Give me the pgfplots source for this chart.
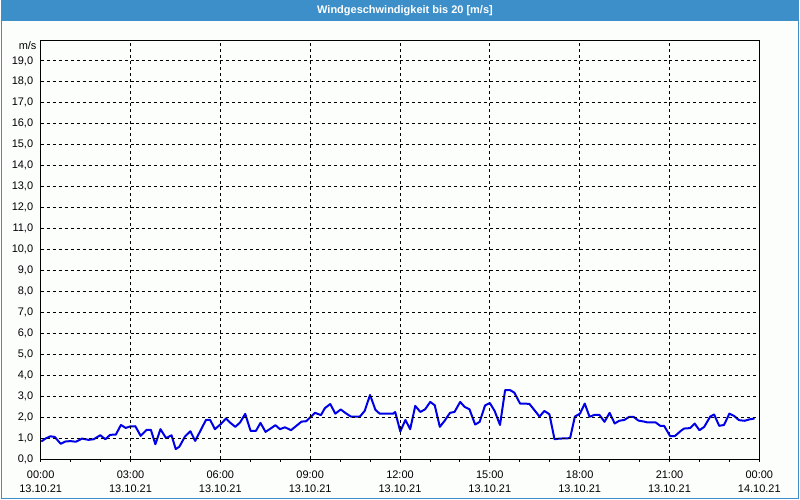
\documentclass[border=0pt]{standalone}
\usepackage{pgfplots}
\pgfplotsset{compat=1.18}
\usepackage{fontspec}
\setmainfont{Liberation Sans}
\definecolor{barblue}{RGB}{60,143,201}
\definecolor{bgc}{RGB}{252,254,252}
\definecolor{lineblue}{RGB}{0,0,230}
\begin{document}
\begin{tikzpicture}[x=1pt,y=1pt]
\fill[bgc] (0,0) rectangle (800,500);
\fill[barblue] (0,479) rectangle (800,500);
\draw[barblue,line width=1.5pt] (0.75,0) -- (0.75,479);
\draw[barblue,line width=1.5pt] (799.25,0) -- (799.25,479);
\draw[barblue,line width=1.5pt] (0,0.75) -- (800,0.75);
\node[text=white,font=\fontsize{11}{13}\selectfont\bfseries] at (405,489.5) {Windgeschwindigkeit bis 20 [m/s]};
\node[anchor=east,inner sep=0pt,font=\fontsize{11}{13}\selectfont] at (36,454) {m/s};
\begin{axis}[
  at={(40pt,40pt)}, anchor=south west,
  width=720pt, height=420pt, scale only axis,
  xmin=0, xmax=24, ymin=0, ymax=20,
  axis line style={black, line width=0.8pt},
  xtick={0,3,...,24},
  minor xtick={1,2,4,5,7,8,10,11,13,14,16,17,19,20,22,23},
  xticklabels={00:00\\13.10.21,03:00\\13.10.21,06:00\\13.10.21,09:00\\13.10.21,12:00\\13.10.21,15:00\\13.10.21,18:00\\13.10.21,21:00\\13.10.21,00:00\\14.10.21},
  xticklabel style={align=center, font=\fontsize{11}{14.5}\selectfont, yshift=-5pt},
  ytick={0,1,...,19},
  yticklabel style={font=\fontsize{11}{13}\selectfont, xshift=-1pt},
  /pgf/number format/.cd, use comma, fixed, fixed zerofill, precision=1, assume math mode=true,
  /pgfplots/.cd,
  tick align=outside,
  major tick length=3pt, minor tick length=3pt,
  xtick pos=bottom,
  ytick style={draw=none},
  tick style={black, line width=0.8pt},
  xmajorgrids, ymajorgrids,
  major grid style={black, line width=0.8pt, dash pattern=on 3pt off 3pt},
  axis on top,
]
\addplot[lineblue, line width=2pt, line join=round] coordinates {
(0.02,0.84)(0.16,0.98)(0.32,1.09)(0.47,1.06)(0.67,0.73)(0.82,0.84)(0.99,0.86)(1.18,0.83)
(1.38,0.98)(1.60,0.92)(1.77,0.95)(1.99,1.14)(2.16,0.95)(2.32,1.16)(2.51,1.17)(2.68,1.63)
(2.84,1.49)(2.99,1.56)(3.16,1.57)(3.34,1.11)(3.54,1.40)(3.68,1.40)(3.83,0.71)(4.00,1.43)
(4.19,1.00)(4.37,1.14)(4.51,0.48)(4.63,0.59)(4.82,1.08)(5.00,1.33)(5.16,0.87)(5.52,1.87)
(5.66,1.87)(5.82,1.43)(6.02,1.68)(6.19,1.94)(6.32,1.75)(6.50,1.54)(6.66,1.75)(6.83,2.16)
(7.01,1.35)(7.19,1.35)(7.34,1.73)(7.51,1.30)(7.68,1.46)(7.84,1.62)(7.99,1.43)(8.16,1.52)
(8.36,1.38)(8.54,1.59)(8.71,1.79)(8.87,1.81)(9.16,2.21)(9.36,2.10)(9.49,2.43)(9.67,2.63)
(9.84,2.17)(10.02,2.37)(10.16,2.22)(10.36,2.03)(10.66,2.03)(10.82,2.30)(11.00,3.06)(11.18,2.35)
(11.32,2.17)(11.77,2.17)(11.84,2.25)(12.01,1.32)(12.18,1.87)(12.34,1.43)(12.51,2.54)(12.68,2.25)
(12.84,2.38)(13.01,2.73)(13.16,2.57)(13.33,1.54)(13.49,1.83)(13.67,2.21)(13.82,2.25)(14.01,2.73)
(14.16,2.49)(14.32,2.38)(14.51,1.65)(14.66,1.78)(14.84,2.56)(15.00,2.68)(15.16,2.30)(15.34,1.63)
(15.51,3.29)(15.68,3.29)(15.82,3.17)(16.01,2.65)(16.32,2.64)(16.66,2.03)(16.82,2.30)(16.99,2.14)
(17.16,0.95)(17.32,0.98)(17.68,1.00)(17.84,2.03)(18.01,2.17)(18.17,2.65)(18.33,2.02)(18.49,2.11)
(18.66,2.11)(18.83,1.78)(19.00,2.21)(19.17,1.70)(19.32,1.83)(19.49,1.87)(19.66,2.02)(19.80,2.02)
(19.96,1.84)(20.16,1.79)(20.27,1.75)(20.54,1.75)(20.69,1.59)(20.82,1.59)(21.02,1.10)(21.18,1.10)
(21.38,1.35)(21.49,1.46)(21.69,1.48)(21.84,1.70)(22.00,1.38)(22.16,1.54)(22.36,2.03)(22.49,2.13)
(22.66,1.59)(22.82,1.63)(23.00,2.17)(23.16,2.06)(23.32,1.86)(23.51,1.83)(23.68,1.90)(23.84,1.94)
};
\end{axis}
\end{tikzpicture}
\end{document}
